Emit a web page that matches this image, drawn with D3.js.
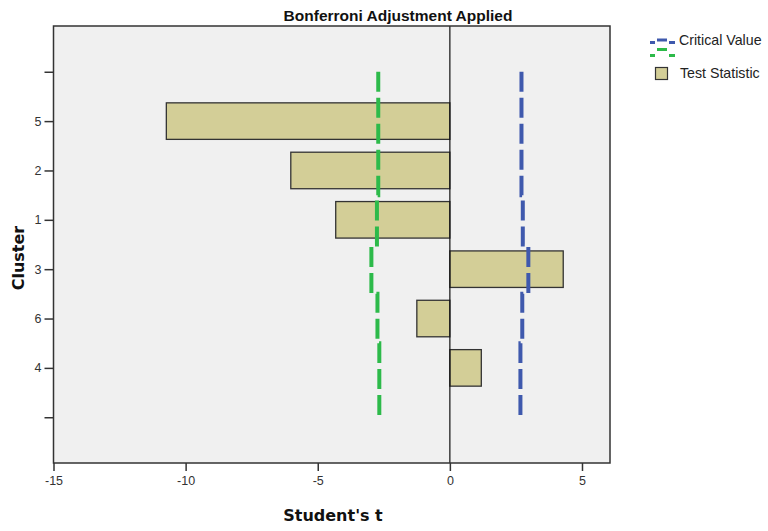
<!DOCTYPE html>
<html>
<head>
<meta charset="utf-8">
<script src="https://cdnjs.cloudflare.com/ajax/libs/d3/7.8.5/d3.min.js"></script>
<style>
  body { margin: 0; background: #fff; }
  .tick text { font-family: "Liberation Sans", Arial, sans-serif; font-size: 12.5px; fill: #333; }
</style>
</head>
<body>
<div id="chart"></div>
<script>
// cluster order, top to bottom
var clusters = ["5", "2", "1", "3", "6", "4"];
// Student's t test statistic per cluster
var testStat = [-10.73, -6.02, -4.32, 4.29, -1.25, 1.19];
// Bonferroni critical value per cluster (drawn at + and -)
var critical = [2.71, 2.71, 2.76, 2.97, 2.74, 2.67];
var xTicks = [-15, -10, -5, 0, 5];

var svgWidth = 768;
var svgHeight = 531;

var plot = { left: 53.5, right: 610, top: 26, bottom: 463 };

var svg = d3.select("#chart")
  .append("svg")
  .attr("width", svgWidth)
  .attr("height", svgHeight);

// scales
var xScale = d3.scaleLinear()
  .domain([-15, 6.06])
  .range([plot.left, plot.right]);

// blank slots above and below the clusters, like the SPSS chart
var yDomain = ["_top"].concat(clusters).concat(["_bottom"]);
var yScale = d3.scalePoint()
  .domain(yDomain)
  .range([plot.top, plot.bottom])
  .padding(0.927);

var step = yScale.step();

// plot background
svg.append("rect")
  .attr("x", plot.left)
  .attr("y", plot.top)
  .attr("width", plot.right - plot.left)
  .attr("height", plot.bottom - plot.top)
  .attr("fill", "#f0f0f0");

// bars
var data = clusters.map(function (c, i) {
  return { cluster: c, t: testStat[i], crit: critical[i] };
});

var barH = step * 0.74;
svg.append("g")
  .selectAll("rect")
  .data(data)
  .enter()
  .append("rect")
  .attr("x", d => xScale(Math.min(0, d.t)))
  .attr("y", d => yScale(d.cluster) - barH / 2)
  .attr("width", d => Math.abs(xScale(d.t) - xScale(0)))
  .attr("height", barH)
  .attr("fill", "#d3ce97")
  .attr("stroke", "#333")
  .attr("stroke-width", 1.3);

// zero reference line
svg.append("line")
  .attr("x1", xScale(0))
  .attr("x2", xScale(0))
  .attr("y1", plot.top)
  .attr("y2", plot.bottom)
  .attr("stroke", "#111")
  .attr("stroke-width", 1.2);

// critical value step lines, built in swapped coords then flipped back
var linePts = [{ cat: "_top", v: critical[0] }]
  .concat(data.map(d => ({ cat: d.cluster, v: d.crit })))
  .concat([{ cat: "_bottom", v: critical[critical.length - 1] }]);

function critLine(sign) {
  return d3.line()
    .x(d => yScale(d.cat))
    .y(d => xScale(sign * d.v))
    .curve(d3.curveStep)(linePts);
}

var flip = svg.append("g").attr("transform", "matrix(0,1,1,0,0,0)");

flip.append("path")
  .attr("d", critLine(1))
  .attr("fill", "none")
  .attr("stroke", "#3f59ad")
  .attr("stroke-width", 4)
  .attr("stroke-dasharray", "20,6");

flip.append("path")
  .attr("d", critLine(-1))
  .attr("fill", "none")
  .attr("stroke", "#2dba4a")
  .attr("stroke-width", 4)
  .attr("stroke-dasharray", "20,6");

// frame on top
svg.append("rect")
  .attr("x", plot.left)
  .attr("y", plot.top)
  .attr("width", plot.right - plot.left)
  .attr("height", plot.bottom - plot.top)
  .attr("fill", "none")
  .attr("stroke", "#333")
  .attr("stroke-width", 1.5);

// axes
var bottomAxis = d3.axisBottom(xScale)
  .tickValues(xTicks)
  .tickSize(8)
  .tickPadding(5)
  .tickSizeOuter(0)
  .tickFormat(d => String(d)); // plain hyphen, not unicode minus

var leftAxis = d3.axisLeft(yScale)
  .tickSize(9)
  .tickPadding(3)
  .tickFormat(d => d.charAt(0) === "_" ? "" : d);

var gx = svg.append("g")
  .attr("transform", `translate(0, ${plot.bottom})`)
  .call(bottomAxis);
gx.select(".domain").remove();
gx.selectAll(".tick line").attr("stroke", "#333").attr("stroke-width", 1.5);

var gy = svg.append("g")
  .attr("transform", `translate(${plot.left}, 0)`)
  .call(leftAxis);
gy.select(".domain").remove();
gy.selectAll(".tick line").attr("stroke", "#333").attr("stroke-width", 1.5);

// titles
svg.append("text")
  .attr("x", 398)
  .attr("y", 21)
  .attr("text-anchor", "middle")
  .style("font-family", "'Liberation Sans', Arial, sans-serif")
  .style("font-weight", "bold")
  .style("font-size", "15.5px")
  .attr("fill", "#111")
  .text("Bonferroni Adjustment Applied");

svg.append("text")
  .attr("x", 333)
  .attr("y", 521)
  .attr("text-anchor", "middle")
  .style("font-family", "'DejaVu Sans', Verdana, sans-serif")
  .style("font-weight", "bold")
  .style("font-size", "16px")
  .attr("fill", "#111")
  .text("Student's t");

svg.append("text")
  .attr("transform", "translate(24, 258) rotate(-90)")
  .attr("text-anchor", "middle")
  .style("font-family", "'DejaVu Sans', Verdana, sans-serif")
  .style("font-weight", "bold")
  .style("font-size", "16px")
  .attr("fill", "#111")
  .text("Cluster");

// legend
var legend = svg.append("g");

function legendSymbol(color, yMid, yEnd) {
  legend.append("line").attr("x1", 650).attr("x2", 655).attr("y1", yEnd).attr("y2", yEnd)
    .attr("stroke", color).attr("stroke-width", 3);
  legend.append("line").attr("x1", 657).attr("x2", 667).attr("y1", yMid).attr("y2", yMid)
    .attr("stroke", color).attr("stroke-width", 3);
  legend.append("line").attr("x1", 669).attr("x2", 675).attr("y1", yEnd).attr("y2", yEnd)
    .attr("stroke", color).attr("stroke-width", 3);
}
legendSymbol("#3f59ad", 40, 42.5);
legendSymbol("#2dba4a", 49.5, 55.5);

legend.append("rect")
  .attr("x", 655.5)
  .attr("y", 67.5)
  .attr("width", 12)
  .attr("height", 12)
  .attr("fill", "#d3ce97")
  .attr("stroke", "#333")
  .attr("stroke-width", 1.2);

legend.append("text")
  .attr("x", 679)
  .attr("y", 45)
  .style("font-family", "'Liberation Sans', Arial, sans-serif")
  .style("font-size", "14.2px")
  .attr("fill", "#222")
  .text("Critical Value");

legend.append("text")
  .attr("x", 680)
  .attr("y", 78)
  .style("font-family", "'Liberation Sans', Arial, sans-serif")
  .style("font-size", "14.2px")
  .attr("fill", "#222")
  .text("Test Statistic");
</script>
</body>
</html>
